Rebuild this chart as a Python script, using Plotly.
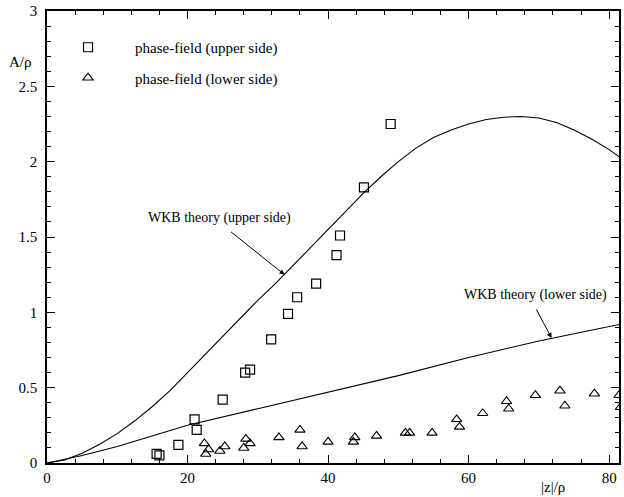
import plotly.graph_objects as go

# phase-field (upper side)
upper_x = [15.6, 16.0, 18.7, 21.0, 21.3, 25.0, 28.2, 28.9, 31.9, 34.3, 35.6, 38.3, 41.2, 41.7, 45.1, 48.9]
upper_y = [0.06, 0.05, 0.12, 0.29, 0.22, 0.42, 0.60, 0.62, 0.82, 0.99, 1.10, 1.19, 1.38, 1.51, 1.83, 2.25]

# phase-field (lower side)
lower_x = [22.4, 23.0, 22.6, 24.6, 25.3, 28.3, 28.0, 28.9, 33.0, 36.0, 36.3, 40.0, 43.8, 43.6,
           46.9, 51.0, 51.6, 54.8, 58.3, 58.7, 62.0, 65.4, 65.7, 69.5, 73.0, 73.7, 77.9, 81.4, 81.6]
lower_y = [0.13, 0.09, 0.06, 0.08, 0.11, 0.16, 0.10, 0.13, 0.17, 0.22, 0.11, 0.14, 0.17, 0.14,
           0.18, 0.20, 0.20, 0.20, 0.29, 0.24, 0.33, 0.41, 0.36, 0.45, 0.48, 0.38, 0.46, 0.45, 0.37]

# WKB theory (upper side)
wkb_up_x = [0, 2.5, 5, 7.5, 10, 12.5, 15, 17.5, 20, 22.5, 25, 27.5, 30, 32.5, 35, 37.5, 40, 42.5,
            45, 47.5, 50, 52.5, 55, 57.5, 60, 62.5, 65, 67.5, 70, 72.5, 75, 77.5, 80, 81.5]
wkb_up_y = [0, 0.02, 0.065, 0.125, 0.195, 0.28, 0.375, 0.48, 0.60, 0.72, 0.84, 0.96, 1.08, 1.19,
            1.31, 1.43, 1.55, 1.67, 1.79, 1.90, 2.00, 2.09, 2.16, 2.21, 2.25, 2.28, 2.295, 2.30,
            2.29, 2.26, 2.21, 2.15, 2.08, 2.03]

# WKB theory (lower side)
wkb_lo_x = [0, 5, 10, 15, 20, 30, 40, 50, 60, 70, 81.5]
wkb_lo_y = [0, 0.05, 0.11, 0.18, 0.25, 0.36, 0.47, 0.58, 0.70, 0.81, 0.92]

FONT = "Liberation Serif"

fig = go.Figure()
fig.add_trace(go.Scatter(x=wkb_up_x, y=wkb_up_y, mode="lines", line=dict(color="black", width=1.1),
                         showlegend=False))
fig.add_trace(go.Scatter(x=wkb_lo_x, y=wkb_lo_y, mode="lines", line=dict(color="black", width=1.1),
                         showlegend=False))
fig.add_trace(go.Scatter(x=upper_x, y=upper_y, mode="markers", name="phase-field (upper side)",
                         legendgroup="a",
                         marker=dict(symbol="square-open", size=9, color="black", line=dict(width=1.2))))
fig.add_trace(go.Scatter(x=lower_x, y=lower_y, mode="markers", name="phase-field (lower side)",
                         legendgroup="b",
                         marker=dict(symbol="triangle-up-open", size=9, color="black", line=dict(width=1.1))))

axis_common = dict(
    showgrid=False, zeroline=False, showline=True, linecolor="black", linewidth=1.5,
    mirror="allticks", ticks="inside", ticklen=8, tickwidth=1.3, tickcolor="black",
    tickfont=dict(family=FONT, size=15, color="black"), ticklabeloverflow="allow",
)
fig.update_xaxes(range=[0, 81.4], tick0=0, dtick=20,
                 minor=dict(ticks="inside", dtick=4, ticklen=4, tickcolor="black", tickwidth=1),
                 **axis_common)
fig.update_yaxes(range=[0, 3], tick0=0, dtick=0.5, ticklabelstandoff=5,
                 minor=dict(ticks="inside", dtick=0.1, ticklen=4, tickcolor="black", tickwidth=1),
                 **axis_common)

# arrows (offsets in pixels from the tip)
fig.add_annotation(x=33.8, y=1.25, ax=-55, ay=-44, xref="x", yref="y",
                   text="", showarrow=True, arrowhead=2, arrowsize=1,
                   arrowwidth=1, arrowcolor="black")
fig.add_annotation(x=71.8, y=0.83, ax=-16, ay=-30, xref="x", yref="y",
                   text="", showarrow=True, arrowhead=2, arrowsize=1,
                   arrowwidth=1, arrowcolor="black")

fig.add_annotation(xref="paper", yref="paper", x=(220 - 47) / 574, y=1 - (218 - 11) / 452,
                   text="WKB theory (upper side)", showarrow=False, xanchor="center",
                   font=dict(family=FONT, size=14, color="black"))
fig.add_annotation(xref="paper", yref="paper", x=(537 - 47) / 574, y=1 - (295 - 11) / 452,
                   text="WKB theory (lower side)", showarrow=False, xanchor="center",
                   font=dict(family=FONT, size=14, color="black"))
fig.add_annotation(xref="paper", yref="paper", x=(20 - 47) / 574, y=1 - (62 - 11) / 452,
                   text="A/ρ", showarrow=False, xanchor="center", yanchor="middle",
                   font=dict(family=FONT, size=15, color="black"))
fig.add_annotation(xref="paper", yref="paper", x=(555 - 47) / 574, y=-(487 - 463) / 452,
                   text="|z|/ρ", showarrow=False, xanchor="center", yanchor="middle",
                   font=dict(family=FONT, size=15, color="black"))

fig.update_layout(
    width=624, height=497,
    margin=dict(l=47, r=3, t=11, b=34),
    paper_bgcolor="white", plot_bgcolor="white",
    font=dict(family=FONT, color="black"),
    legend=dict(x=(41 - 47) / 574, y=1 - 20 / 452, xanchor="left", yanchor="top",
                bgcolor="rgba(0,0,0,0)", font=dict(family=FONT, size=15, color="black"),
                itemwidth=84, tracegroupgap=8),
)
fig.write_html("out.html", config={"displayModeBar": False},
               post_script="document.body.style.margin='0';")
